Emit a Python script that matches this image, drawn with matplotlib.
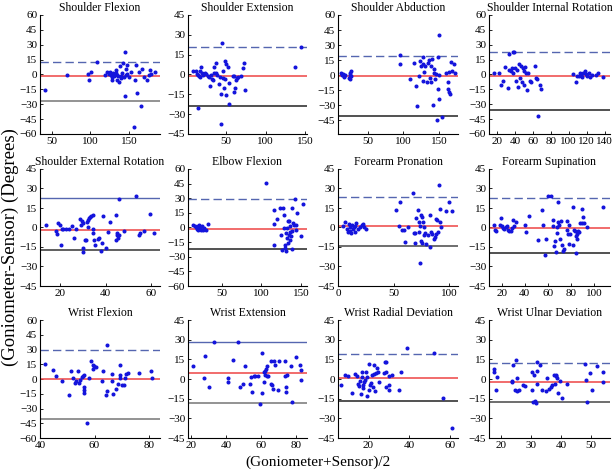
import matplotlib
matplotlib.use("Agg")
import matplotlib.pyplot as plt

plt.rcParams['font.family'] = ['Liberation Serif', 'DejaVu Serif']

# ---- data: mean of the two (x) and difference (y) ----
sflex_x = [41.3, 69.6, 96.5, 98.7, 101, 108.7, 119.6, 121, 123.9, 126, 126.1, 128, 128.3, 129.6,
           130.4, 132.6, 132.6, 133.9, 134.8, 135.7, 137, 138, 139.1, 140, 141.3, 142.6, 143.5,
           144.8, 144.3, 145.7, 146, 147.8, 147.8, 150, 152.2, 156.5, 157.4, 158.7, 160, 163,
           165, 167, 169.6, 173, 176, 177, 178, 183.5]
sflex_y = [-15.5, -0.7, 0, -6, 2.4, 12.5, -0.3, 3, 0.7, 3, -1, -6, -2.7, 1.4,
           -1.4, 4.7, 1.4, -1, -6, -2, -7.8, 9, -3.4, -2, 1.4, 11.5, -2.7,
           22.6, -21.3, -1, 5.7, 9.8, 0, -2.7, 2.4, -53.4, -6, 10, -19, 3,
           -31.8, 5.7, -2.7, -6, -1, 4.7, 0.7, 2.4]

sext_x = [8.3, 12.5, 13.8, 14.6, 15.6, 16.7, 14.6, 17.5, 18.8, 20, 20.8, 22.9, 24.2, 27.1, 28.3,
          29.2, 31.3, 32, 33.3, 34.2, 35.4, 36.7, 37.5, 38.8, 41.7, 42.9, 43.8, 44.6, 43.8,
          45.8, 46.7, 47.9, 48.8, 49.2, 50, 50, 52.1, 53.3, 54.2, 58.3, 60.4, 61.7, 60.4,
          62.5, 63.3, 64.6, 68.8, 70.8, 72.1, 73.8, 137.5, 145]
sext_y = [3, 2.3, 0.5, -0.3, -1, -2, -25.4, 3, 5.5, 1.5, -0.3, 1.5, 0.5, -1, -2,
          -8.5, -0.3, -3.5, -4, 1.5, 5.3, 1.5, 9, -0.3, -7, -2, -14.6, 23.6, -37.2,
          2.8, -2.8, -10.3, -3.5, 10.3, 8, -15.3, 5.3, -22, -6.5, -1, -13.6, -10.3, -1.5,
          -4.5, -2.8, -2, -1, 4.8, 9, -12, 5.5, 20.6]

sabd_x = [12.4, 13.8, 15.7, 17.1, 17.1, 18.5, 23.2, 24.2, 24.2, 25.6, 26.5, 26.5,
          95.5, 95.5, 108.7, 114.8, 118, 119, 121.4, 123.7, 125.1, 127.5, 128.4, 128.4, 129.8,
          131.2, 133.1, 134.5, 136.8, 137.8, 139.2, 139.2, 140.1, 141.5, 142.5, 143.9, 144.8,
          146.2, 147.7, 148.6, 148.6, 149.6, 150, 150.9, 154.7, 160.3, 162.7, 162.7, 164.1,
          165, 166, 167.4, 168.8, 170.7, 172.1]
sabd_y = [2.4, 0.7, 1.4, -1, -2, 0, -2.7, 0, -3.4, 2.4, 4, -1,
          20.3, 11.5, -3.7, 11.9, -10.5, -30.8, -1, 14.2, 9.2, 10.8, 18.3, -5.4, 3.4,
          9.2, -6.8, 12.5, 14.9, -2.7, 9.2, -6.8, 15.9, -29.2, 5.8, 2.4, -3.4,
          1.4, -45, 18.3, -13.6, -23.7, 0.7, 39.7, -41.7, 2.4, -6.8, -13.6, 3.4,
          -16.3, -19, 13.6, 4, 11.5, 2.4]

sint_x = [16.3, 22.6, 24.5, 26.3, 29.3, 31.9, 33.1, 33.8, 35.7, 36.8, 37.5, 38.3, 39.4, 40.1,
          41.3, 42.4, 43.1, 45, 45.7, 46.9, 47.6, 48.7, 49.5, 50.6, 51.7, 52.5, 53.2, 54.3,
          56.2, 58.1, 61.8, 62.9, 64.4, 65.5, 67.4, 68.5,
          104.7, 107.7, 109.2, 111.4, 112.2, 114, 115.1, 115.9, 117.8, 118.9, 120.4, 122.6,
          124.1, 126.3, 130.8, 132.7, 138.3]
sint_y = [1.8, 1.8, -10.6, -7, 7.8, -14.1, 4.2, 20.5, 3.5, 7, 23, 1.8, 23, 7,
          -7, 4.2, -12.4, 10.6, -3.5, 8.8, -7.8, 7, 3.5, -10.6, 7.8, 1.8, -15.9, 1.8,
          -7, -7.8, 8.8, -3.5, -4.2, -41.7, -10.6, -14.8,
          0.7, -7.8, -1.8, -1.8, 1.8, -0.7, -2.8, 1.8, 3.5, 0, -1.8, 1.8,
          -2.8, -0.7, -0.7, 1.8, -2.8]

sextr_x = [13.7, 18.1, 18.5, 19.1, 20, 20.3, 20.6, 21, 22.5, 23.9, 25, 25.8, 26.9, 28.8, 29.3,
           29.5, 29.8, 30.1, 30.2, 30.8, 31.2, 31.7, 32, 32.3, 32.7, 33.1, 33.7, 34.2, 34.6,
           34.6, 34.9, 35.2, 36.6, 37.1, 37.8, 38.5, 39, 40, 41, 41.9, 44.4, 44.4, 44.8,
           45.1, 45.4, 45.8, 45.8, 48, 53.6, 54.6, 55, 57.1, 59.7, 61.5]
sextr_y = [2.3, -2.6, -5.1, 3.1, 1.8, -13.1, -0.8, -1.3, -0.8, -0.8, 1.3, -7.7, -1.5, 6.9, 1.8,
           4.9, -15.7, -18.8, 3.1, -9.8, -9.3, 3.9, 0.5, 5.7, 7.5, 8.2, 9, -0.8, 9.5,
           -3.9, -9.8, -13.1, -9, -8, -18.3, -12.3, 9, -15.7, -3.3, 4.4, 9.5, -9.8, -4.6,
           -5.9, -8, 21.9, -5.4, -2.8, 24.4, -5.4, -4.6, -2.8, 10, -3.9]

elb_x = [14.6, 16.7, 17.9, 18.8, 20, 20.8, 22.1, 22.9, 23.8, 25, 26.3, 27.9, 30.4, 33.3,
         105.4, 115.4, 115.4, 115.4, 119.6, 123.8, 125, 125.8, 127.1, 127.9, 127.9, 129.2,
         130, 130.4, 131.3, 132.1, 132.5, 133.3, 133.3, 134.6, 134.6, 135.4, 136.3, 136.3,
         137.5, 138.3, 138.8, 138.8, 139.6, 140.4, 141.7, 142.9, 143.8, 145, 150, 152.1]
elb_y = [2.9, 1.9, 0.2, -1.2, 1.2, -2.2, 2.2, -0.5, -2.2, 1.2, -2.2, -0.5, -2.2, 3.9,
         45.4, 18.2, 3.6, -17.5, 9, 19.9, -7.3, -22.6, 19.9, 12.4, -0.5, -17.5,
         -20.9, -5.6, -23.6, -10.7, -0.5, 7, -15.8, 6.3, -8, -4.6, -12.4, 1.2,
         -9, -21.6, 19.9, -3.2, 4.6, 2.2, 29.4, -2.2, 2.9, 14.8, -9, 24]

fpro_x = [4.5, 6.5, 8, 8.9, 9.5, 10.4, 11, 11.9, 12.5, 13.4, 14, 14.9, 15.5, 16.4, 17.6, 19.9,
          21.4, 22.9, 23.8, 25.3,
          51.8, 55.1, 55.7, 57.7, 59.2, 60.1, 63.1, 67.6, 68.5, 69, 69.6, 70.5, 72, 72.6, 72.9,
          73.5, 74.1, 75, 75, 75.6, 75.9, 76.5, 77.1, 77.4, 78, 79.5, 81, 82.4, 83, 83.9,
          84.8, 86, 86.9, 88.4, 88.4, 89.3, 89.9, 90.8, 91.4, 92, 92.9, 97.3, 100.3, 102.4]
fpro_y = [1.3, 4.4, -1.3, -3.1, 2.6, -2.6, 0.5, -3.9, 1.8, -1.3, 0, -3.1, 1.3, 3.1, -0.8, 0,
          1.8, 2.6, 0.5, -0.8,
          13.4, 1.3, 19.3, -2.1, -2.1, -10.8, 0.5, 26.2, -4.6, -3.9, -12.3, 7.2, 13.4, -3.1, 4.6,
          -27, 1.3, 9.8, -10.3, 7.7, -12.3, 4.6, 0.5, -5.7, -4.6, -12.9, -5.7, 9.8, -14.9, -3.1,
          -5.1, -9, -7.2, 6.4, -5.1, 5.7, -3.1, 32.9, 14.1, 4.6, 0.5, 12.9, 19.3, 12.9]

fsup_x = [13.6, 14.2, 15.1, 18.6, 19.4, 20, 20.9, 22, 23.8, 24.9, 25.8, 26.6, 27.8, 28.7, 30.1,
          31, 32.1, 40.2, 41.1, 44, 51.8, 54.7, 55.5, 57.6, 58.4, 60.5, 62.8, 64.2, 64.8, 65.4,
          66.2, 67.1, 67.7, 68.3, 68.6, 69.1, 69.7, 70.6, 71.2, 72, 72.9, 74, 76.4, 77, 77.8,
          78.4, 78.7, 79.2, 81.6, 82.1, 82.7, 83.6, 84.2, 84.5, 85, 85.6, 86.5, 87.3, 87.9,
          89.4, 89.9, 90.8, 91.7, 93.7, 108.2]
fsup_y = [2.2, -1.7, -2.5, 1.7, 7.4, 0.9, -0.4, -1.2, 0.1, 0.9, -1.7, -2.5, -2.5, -0.4, 6.1,
          0.9, 4.3, 2.2, -3.5, 8.7, -9.5, 13.1, 2.2, -21.1, -8.7, 24.2, 24.2, 0.9, 6.1, -14.6,
          -10.2, -18.5, 0.1, -4.3, 4.3, 19.8, 2.2, -8.7, 5.3, -13.3, -18.1, -16.5, 5.3, -1.7, -5.1,
          -12.8, 2.2, -5.1, 15.7, -13.3, -1.7, -2.5, -19.8, -6.9, -8.7, -5.1, -3, -3.5, 3.5,
          3.5, 14.6, 7.9, 3.5, 0.1, 15.7]

wflex_x = [41.8, 44.6, 46, 48.2, 50.6, 51.4, 52, 52.7, 53.3, 53.9, 54.2, 54.7, 55.4, 55.9, 56.3,
           56.3, 56.3, 56.3, 57.1, 57.8, 58.7, 59.3, 59.5, 59.9, 60.5, 62.7, 63.1, 64.3, 64.7,
           64.7, 66.3, 66.3, 66.7, 68, 68.6, 69.2, 69.5, 69.5, 69.9, 70.7, 71.3, 71.6, 72.3,
           76.4, 80.7, 81.2]
wflex_y = [15.4, 9.6, 2.7, -1.7, -16.1, 7.9, 1, -4.1, -1.7, 8.6, -4.1, -0.7, 1.7, 2.7, 3.8,
           -8.6, -11, -14.4, -44.5, 1, 18.8, 14, 10.6, 13, 12, -1.7, 7.9, -16.1, 34.6,
           -12.7, 5.1, -1.7, -15.4, -9.9, -5.1, 14.7, 4.5, 1, -6.5, -6.5, 1, 5.1, 6.2,
           6.2, 7.9, 1]

wext_x = [21.3, 27.4, 28, 30.6, 33.4, 41, 41, 44.2, 47, 47.9, 49.8, 50.7, 53.5, 54.5, 55, 55.9,
          56.7, 58.2, 59.1, 60.4, 60.6, 61.5, 61.5, 61.9, 62.3, 62.8, 63.4, 63.4, 64.1, 65.3,
          65.6, 66, 66.6, 67.5, 67.9, 69.3, 70.3, 73.4, 73.6, 74, 74, 74.4, 77.2, 77.7, 79.6,
          82, 82.4, 82.4]
wext_y = [9.7, 0.4, 17.3, -6.2, 28.1, 0.4, -2.4, 14.7, 28.1, -6.2, -3.7, 9.7, -3.7, 1.4, -9.7, 2.6,
          2.6, 2.6, -19.3, -10.5, 19.8, -2.1, 5.4, 6.4, 3.4, 7.9, 9.7, 2.6, 2.6, 13.5,
          -3.7, -4.7, -7.9, 13.5, 10.5, -8.7, 13.5, 14, 2.1, -6.2, -9.7, 2.9, 9.7, -17.3, 16.5,
          11, 7.2, -1.1]

wrad_x = [6.4, 8.4, 9.8, 12.1, 13.4, 14.2, 15, 15.5, 15.9, 16.4, 16.7, 16.7, 17.2, 17.5, 18,
          18.3, 18.8, 19.2, 19.5, 20, 20.3, 20.8, 21.3, 21.7, 22, 22.5, 22.8, 23.3, 23.6, 24.1,
          24.5, 25, 27.4, 27.9, 28.6, 28.8, 28.6, 29.9, 30.2, 30.2, 31.6, 35.2, 36, 39, 52.2,
          56.4, 61]
wrad_y = [-4.8, 2.8, 2, -10.6, 3.8, 2, -3.8, -5.5, -1.8, -11.8, 5.3, 1.3, -6.8, -4.3, -2.3,
          -0.5, 5.3, -13.1, 1.3, 11.3, -8.1, -4.3, -3, 3.3, -6.3, 10.3, 3.8, -9.3, 4.5, 8.3,
          5.3, -2.3, 4.5, 12.8, 12.8, 5.3, -6.3, 2, -4.3, -8.1, 2.8, -8.1, 5.3, 23.4, 19.6,
          -14.4, -37]

wuln_x = [17.5, 17.5, 18, 18.5, 23.4, 23.7, 23.9, 24.5, 24.8, 25.1, 25.1, 26, 27.3, 27.9, 30.4,
          30.4, 30.7, 31, 31.2, 31.6, 32, 32, 32, 32.9, 33.5, 34.9, 35.2, 36, 36.5, 36.9, 37.6,
          38, 38.3, 38.5, 38.8, 39.1, 39.7, 40.2, 41.9, 48.1, 48.4, 48.7, 49.8, 50.3, 52.2,
          54.3, 54.3]
wuln_y = [7.8, 5.3, -8.1, 1.3, -2.5, -1.8, 10.3, -8.1, 14.6, 0.8, -9.3, -8.1, -4.3, -5.5, 5.3,
          -8.1, -17.4, 2.8, -16.9, -18.1, 12.8, 6.3, -3.8, 10.3, -8.1, -9.3, 0.8, -7.3, -6.3, -4.8, 2.8,
          -3.8, 2, 2.8, 0.8, -10.6, -1.3, -14.4, -3.8, 11.3, -0.5, -17.4, 4.5, -8.1, 9.6,
          5.3, -2.3]

titles = ["Shoulder Flexion", "Shoulder Extension", "Shoulder Abduction", "Shoulder Internal Rotation",
          "Shoulder External Rotation", "Elbow Flexion", "Forearm Pronation", "Forearm Supination",
          "Wrist Flexion", "Wrist Extension", "Wrist Radial Deviation", "Wrist Ulnar Deviation"]
xs = [sflex_x, sext_x, sabd_x, sint_x, sextr_x, elb_x, fpro_x, fsup_x, wflex_x, wext_x, wrad_x, wuln_x]
ys = [sflex_y, sext_y, sabd_y, sint_y, sextr_y, elb_y, fpro_y, fsup_y, wflex_y, wext_y, wrad_y, wuln_y]

# limits of agreement: upper, mean bias, lower
upper = [12.5, 20.6, 19.3, 22.3, 22.9, 29.1, 23.7, 22.9, 29.1, 28.1, 19.4, 12.3]
bias = [-2, -1, -0.3, -1.8, -2, -1.2, 1, -0.4, -0.5, 4.7, 0.8, -2.3]
lower = [-27, -24.1, -40.7, -35.3, -17.5, -21.9, -14.1, -19.8, -40.8, -18.3, -16.9, -17.6]

xlims = [(35, 190), (2, 152), (8, 177), (11, 146), (11, 64), (8, 157),
         (0, 108), (9, 114), (40, 84), (18.5, 86), (5, 64), (15.8, 56.5)]
ylims = [(-60, 60), (-45, 45), (-58.5, 60), (-60, 60), (-45, 45), (-60, 60),
         (-45, 45), (-45, 45), (-60, 60), (-45, 45), (-45, 45), (-45, 45)]
xticks = [[50, 100, 150], [50, 100, 150], [50, 100, 150], [20, 40, 60, 80, 100, 120, 140],
          [20, 40, 60], [50, 100, 150], [0, 50, 100], [20, 40, 60, 80, 100],
          [40, 60, 80], [20, 40, 60, 80], [20, 40, 60], [20, 30, 40, 50]]
yticks = [list(range(-60, 61, 15)), list(range(-45, 46, 15)), list(range(-45, 61, 15)),
          list(range(-60, 61, 15)), list(range(-45, 46, 15)), list(range(-60, 61, 15)),
          list(range(-45, 46, 15)), list(range(-45, 46, 15)), list(range(-60, 61, 15)),
          list(range(-45, 46, 15)), list(range(-45, 46, 15)), list(range(-45, 46, 15))]
upper_solid = [False, False, False, False, True, False, False, False, False, True, False, False]
lower_col = ['#808080', '#333333', '#333333', '#333333', '#444444', '#333333',
             '#555555', '#333333', '#808080', '#808080', '#333333', '#555555']

W, H = 616, 473
fig = plt.figure(figsize=(W / 100, H / 100), dpi=100)

col_l = [40, 188, 338, 489]
col_r = [160, 307, 458, 610]
row_t = [15, 169, 320]
row_b = [134, 286, 438]

for i in range(12):
    r, c = divmod(i, 4)
    ax = fig.add_axes([col_l[c] / W, 1 - row_b[r] / H,
                       (col_r[c] - col_l[c]) / W, (row_b[r] - row_t[r]) / H])
    ax.plot(xs[i], ys[i], '.', color='#1414dc', markersize=3.8, zorder=3)
    if upper_solid[i]:
        ax.axhline(upper[i], color='#5566b0', lw=1.0)
    else:
        ax.axhline(upper[i], color='#5566b0', lw=1.0, linestyle=(0, (6, 3)))
    ax.axhline(bias[i], color='#ee4444', lw=1.1)
    ax.axhline(lower[i], color=lower_col[i], lw=1.2)
    ax.set_xlim(*xlims[i])
    ax.set_ylim(*ylims[i])
    ax.set_xticks(xticks[i])
    ax.set_yticks(yticks[i])
    ax.tick_params(labelsize=8, direction='in', length=2, width=0.6, pad=2)
    for s in ['top', 'right']:
        ax.spines[s].set_visible(False)
    for s in ['left', 'bottom']:
        ax.spines[s].set_linewidth(0.8)
    ax.set_title(titles[i], fontsize=8.5, pad=3)

fig.text(10 / W, 1 - 247 / H, "(Goniometer-Sensor) (Degrees)", rotation=90,
         ha='center', va='center', fontsize=13.5)
fig.text(318 / W, 1 - 462 / H, "(Goniometer+Sensor)/2", ha='center', va='center', fontsize=11)

fig.savefig("out.png", dpi=100)
